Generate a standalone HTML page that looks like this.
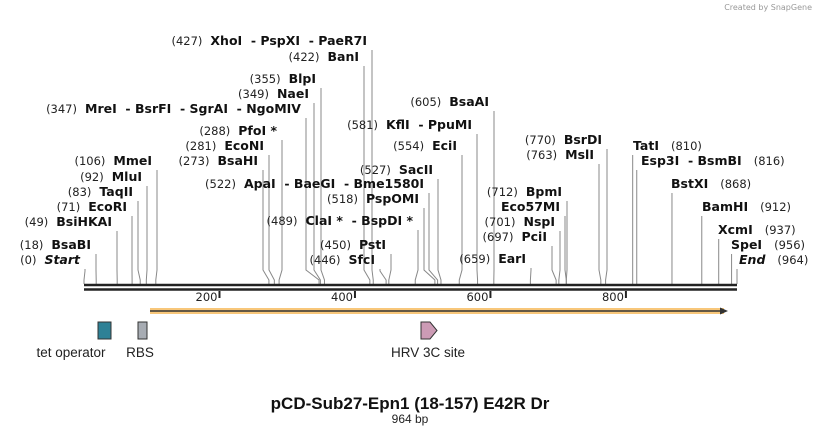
<!DOCTYPE html>
<html><head><meta charset="utf-8"><style>
body{margin:0;background:#fff;}
svg{display:block;font-family:"DejaVu Sans","Liberation Sans",sans-serif;}
.n{font-size:11.5px;fill:#222;}
.b{font-size:12.5px;font-weight:bold;fill:#111;}
</style></head><body>
<svg width="822" height="434">
<text x="812" y="10" font-size="8" fill="#999" text-anchor="end">Created by SnapGene</text>
<g id="sites"></g>
<g id="axis"></g>
<g>
<line x1="150" y1="311" x2="724" y2="311" stroke="#f8c77a" stroke-width="6"/>
<line x1="150" y1="311" x2="722" y2="311" stroke="#333" stroke-width="1.5"/>
<polygon points="720,307.5 728,311 720,314.5" fill="#333"/>
</g>
<rect x="98" y="322" width="13" height="17" fill="#2e8196" stroke="#333"/>
<rect x="138" y="322" width="9" height="17" fill="#a7acb3" stroke="#333"/>
<polygon points="421,322 430,322 437,330.5 430,339 421,339" fill="#cc9bb5" stroke="#333"/>
<text x="71" y="357" font-size="13.5" fill="#222" text-anchor="middle" font-family="Liberation Sans">tet operator</text>
<text x="140" y="357" font-size="13.5" fill="#222" text-anchor="middle" font-family="Liberation Sans">RBS</text>
<text x="428" y="357" font-size="13.5" fill="#222" text-anchor="middle" font-family="Liberation Sans">HRV 3C site</text>
<text x="410" y="409" font-size="17" font-weight="bold" fill="#111" text-anchor="middle" font-family="Liberation Sans">pCD-Sub27-Epn1 (18-157)  E42R Dr</text>
<text x="410" y="423" font-size="12" fill="#222" text-anchor="middle" font-family="Liberation Sans">964 bp</text>
</svg>
<script>
const seqLen = 964;
const sitePositions = [0,18,49,71,83,92,106,273,281,288,347,349,355,422,427,522,518,489,450,446,527,554,581,605,659,697,701,712,712,763,770,810,816,868,912,937,956,964];
const siteNames = ["Start","BsaBI","BsiHKAI","EcoRI","TaqII","MluI","MmeI","BsaHI","EcoNI","PfoI *","MreI  - BsrFI  - SgrAI  - NgoMIV","NaeI","BlpI","BanI","XhoI  - PspXI  - PaeR7I","ApaI  - BaeGI  - Bme1580I","PspOMI","ClaI *  - BspDI *","PstI","SfcI","SacII","EciI","KflI  - PpuMI","BsaAI","EarI","PciI","NspI","BpmI","Eco57MI","MslI","BsrDI","TatI","Esp3I  - BsmBI","BstXI","BamHI","XcmI","SpeI","End"];
const tickValues = [200,400,600,800];
// label layout: anchor x, text baseline y, side (L = label left of line, R = right), showNumber
const labelLayout = [[80,264,"L",1],[91,249,"L",1],[112,226,"L",1],[127,211,"L",1],[133,196,"L",1],[142,181,"L",1],[152,165,"L",1],[258,165,"L",1],[264,150,"L",1],[277,135,"L",1],[301,113,"L",1],[309,98,"L",1],[316,83,"L",1],[359,61,"L",1],[367,45,"L",1],[424,188,"L",1],[419,203,"L",1],[413,225,"L",1],[386,249,"L",1],[375,264,"L",1],[433,174,"L",1],[457,150,"L",1],[472,129,"L",1],[489,106,"L",1],[526,263,"L",1],[547,241,"L",1],[555,226,"L",1],[562,196,"L",1],[560,211,"L",0],[594,159,"L",1],[602,144,"L",1],[633,150,"R",1],[641,165,"R",1],[671,188,"R",1],[702,211,"R",1],[718,234,"R",1],[731,249,"R",1],[739,264,"R",1]];
const X0 = 84, X1 = 737, baseY = 284;
function xScale(p){ return X0 + (X1 - X0) * p / seqLen; }
const NS = "http://www.w3.org/2000/svg";
const gS = document.getElementById("sites");
sitePositions.forEach((p, i) => {
  const [ax, ay, side, showNum] = labelLayout[i];
  const sx = xScale(p);
  const lx = side === "L" ? ax + 5 : sx;
  const line = document.createElementNS(NS, "polyline");
  const midY = Math.max(ay + 7, baseY - 14);
  line.setAttribute("points", `${lx},${ay+5} ${lx},${midY} ${sx},${baseY-4} ${sx},${baseY}`);
  line.setAttribute("fill", "none");
  line.setAttribute("stroke", "#888");
  line.setAttribute("stroke-width", "1");
  
  
  gS.appendChild(line);
  const t = document.createElementNS(NS, "text");
  t.setAttribute("y", ay);
  
  
  const nm = document.createElementNS(NS, "tspan");
  nm.setAttribute("class", "b");
  nm.style.whiteSpace = "pre";
  nm.textContent = siteNames[i];
  if (i === 0 || i === sitePositions.length - 1) nm.setAttribute("font-style", "italic");
  const num = document.createElementNS(NS, "tspan");
  num.setAttribute("class", "n");
  num.textContent = "(" + p + ")";
  if (side === "L") {
    t.setAttribute("x", ax);
    t.setAttribute("text-anchor", "end");
    if (showNum) { t.appendChild(num); nm.setAttribute("dx", "8"); }
    t.appendChild(nm);
  } else {
    t.setAttribute("x", ax);
    t.appendChild(nm);
    if (showNum) { num.setAttribute("dx", "12"); t.appendChild(num); }
  }
  t.style.whiteSpace = "pre";
  gS.appendChild(t);
});
const gA = document.getElementById("axis");
[285, 289.5].forEach(y => {
  const l = document.createElementNS(NS, "line");
  l.setAttribute("x1", X0); l.setAttribute("x2", X1);
  l.setAttribute("y1", y); l.setAttribute("y2", y);
  l.setAttribute("stroke", "#222"); l.setAttribute("stroke-width", "2.6");
  
  
  gA.appendChild(l);
});
tickValues.forEach(v => {
  const x = xScale(v);
  const l = document.createElementNS(NS, "line");
  l.setAttribute("x1", x); l.setAttribute("x2", x);
  l.setAttribute("y1", 291); l.setAttribute("y2", 298);
  l.setAttribute("stroke", "#222"); l.setAttribute("stroke-width", "2");
  
  
  gA.appendChild(l);
  const t = document.createElementNS(NS, "text");
  t.setAttribute("x", x - 2); t.setAttribute("y", 301);
  t.setAttribute("text-anchor", "end");
  t.setAttribute("class", "n");
  t.textContent = v;
  
  
  gA.appendChild(t);
});
</script>
</body></html>
